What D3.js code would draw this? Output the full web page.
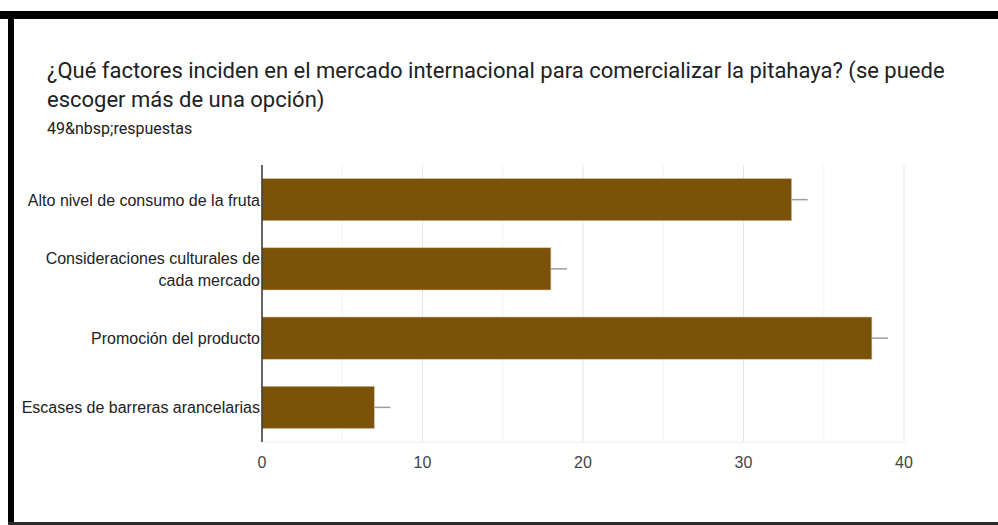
<!DOCTYPE html>
<html>
<head>
<meta charset="utf-8">
<script src="https://cdn.jsdelivr.net/npm/d3@7"></script>
<style>
  html, body { margin: 0; padding: 0; background: #fff; }
  svg { display: block; }
</style>
</head>
<body>
<script>
// Survey responses: factors affecting the international pitahaya market
const categories = [
  ["Alto nivel de consumo de la fruta"],
  ["Consideraciones culturales de", "cada mercado"],
  ["Promoción del producto"],
  ["Escases de barreras arancelarias"]
];
const counts = [33, 18, 38, 7];
const errorMargins = [1, 1, 1, 1];
const majorTicks = [0, 10, 20, 30, 40];
const minorTicks = [5, 15, 25, 35];
const titleLines = [
  "¿Qué factores inciden en el mercado internacional para comercializar la pitahaya? (se puede",
  "escoger más de una opción)"
];
const subtitle = "49&nbsp;respuestas";

const W = 998, H = 525;
const svg = d3.select("body").append("svg").attr("width", W).attr("height", H);

// Frame
svg.append("rect").attr("x", 0).attr("y", 11).attr("width", W).attr("height", 8).attr("fill", "#000");
svg.append("rect").attr("x", 8).attr("y", 11).attr("width", 6).attr("height", H - 11).attr("fill", "#000");
svg.append("rect").attr("x", 8).attr("y", 522).attr("width", W - 8).attr("height", 3).attr("fill", "#2a2a2a");

// Title
const title = svg.append("text")
  .attr("font-family", "Roboto, 'Open Sans', sans-serif")
  .attr("font-size", 22)
  .attr("fill", "#202124");
titleLines.forEach((t, i) => {
  title.append("tspan").attr("x", 47).attr("y", 78 + i * 29).text(t);
});
svg.append("text")
  .attr("x", 47).attr("y", 134)
  .attr("font-family", "Roboto, 'Open Sans', sans-serif")
  .attr("font-size", 16)
  .attr("fill", "#202124")
  .text(subtitle);

// Plot area
const plot = { left: 262, right: 904, top: 165, bottom: 442 };
const x = d3.scaleLinear().domain([0, 40]).range([plot.left, plot.right]);
const y = d3.scaleBand().domain(d3.range(categories.length))
  .range([plot.top, plot.bottom]).paddingInner(0.39).paddingOuter(0.195);

const g = svg.append("g");

// Gridlines
g.selectAll(".minor").data(minorTicks).join("line")
  .attr("x1", d => x(d)).attr("x2", d => x(d))
  .attr("y1", plot.top).attr("y2", plot.bottom)
  .attr("stroke", "#f3f3f3").attr("stroke-width", 1);
g.selectAll(".major").data(majorTicks.slice(1)).join("line")
  .attr("x1", d => x(d)).attr("x2", d => x(d))
  .attr("y1", plot.top).attr("y2", plot.bottom)
  .attr("stroke", "#e6e6e6").attr("stroke-width", 1);
g.append("line")
  .attr("x1", plot.left).attr("x2", plot.right)
  .attr("y1", plot.bottom).attr("y2", plot.bottom)
  .attr("stroke", "#ececec");

// Error whiskers
g.selectAll(".err").data(counts).join("line")
  .attr("x1", d => x(d)).attr("x2", (d, i) => x(d + errorMargins[i]))
  .attr("y1", (d, i) => y(i) + y.bandwidth() / 2)
  .attr("y2", (d, i) => y(i) + y.bandwidth() / 2)
  .attr("stroke", "#9e9e9e").attr("stroke-width", 1.5);

// Bars
g.selectAll(".bar").data(counts).join("rect")
  .attr("x", x(0)).attr("y", (d, i) => y(i))
  .attr("width", d => x(d) - x(0)).attr("height", y.bandwidth())
  .attr("fill", "#7a5209")
  .attr("stroke", "#d8c7a0").attr("stroke-width", 0.6);

// Vertical axis line
g.append("line")
  .attr("x1", plot.left).attr("x2", plot.left)
  .attr("y1", plot.top).attr("y2", plot.bottom)
  .attr("stroke", "#333").attr("stroke-width", 1.5);

// Category labels
const labelFont = "'Liberation Sans', Arial, sans-serif";
categories.forEach((lines, i) => {
  const cy = y(i) + y.bandwidth() / 2;
  const t = g.append("text")
    .attr("text-anchor", "end")
    .attr("font-family", labelFont)
    .attr("font-size", 16)
    .attr("fill", "#222");
  const lh = 22;
  lines.forEach((l, j) => {
    t.append("tspan")
      .attr("x", plot.left - 2)
      .attr("y", cy + 6 + (j - (lines.length - 1) / 2) * lh)
      .text(l);
  });
});

// Value axis ticks
g.selectAll(".tick").data(majorTicks).join("text")
  .attr("x", d => x(d)).attr("y", 468)
  .attr("text-anchor", "middle")
  .attr("font-family", labelFont)
  .attr("font-size", 16)
  .attr("fill", "#444")
  .text(d => d);
</script>
</body>
</html>
